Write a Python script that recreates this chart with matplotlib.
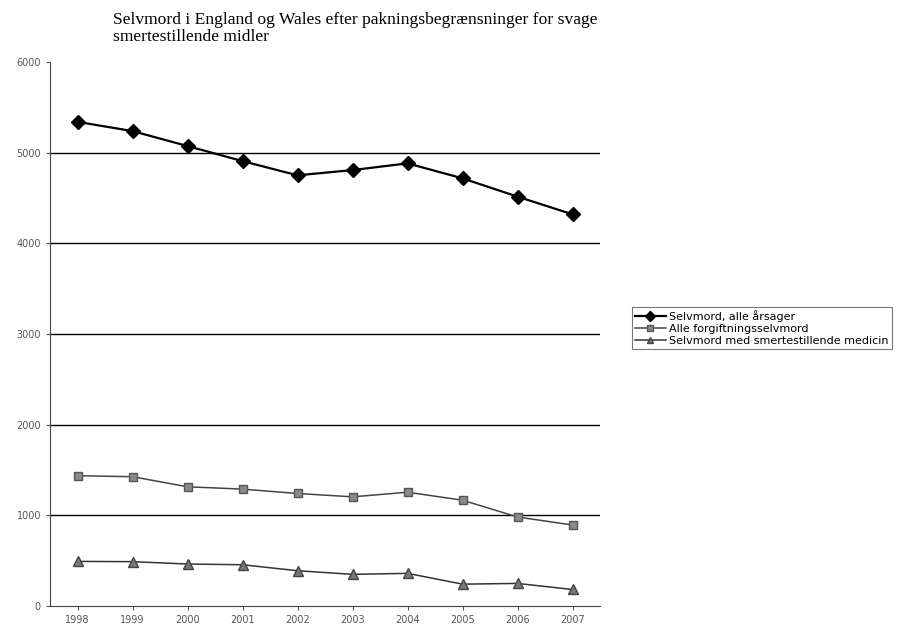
import numpy as np
import matplotlib.pyplot as plt

years = ["1998", "1999", "2000", "2001", "2002", "2003", "2004", "2005", "2006", "2007"]
alle_aarsager = [5340, 5238, 5073, 4907, 4750, 4808, 4882, 4717, 4515, 4320]
forgiftning = [1437, 1426, 1315, 1289, 1241, 1204, 1255, 1167, 982, 893]
smertestillende = [492, 489, 463, 455, 389, 349, 360, 241, 249, 182]

labels = ["Selvmord, alle årsager", "Alle forgiftningsselvmord",
          "Selvmord med smertestillende medicin"]
title = ("Selvmord i England og Wales efter pakningsbegrænsninger for svage\n"
         "smertestillende midler")

W, H = 897, 634
fig = plt.figure(figsize=(W / 100, H / 100), dpi=100)
ax = fig.add_axes([50 / W, (H - 606) / H, 550 / W, (606 - 62) / H])

x = np.arange(len(years))
ax.plot(x, alle_aarsager, color="black", lw=1.6, marker="D", ms=7,
        mfc="black", mec="black", label=labels[0])
ax.plot(x, forgiftning, color="#444444", lw=1.1, marker="s", ms=6,
        mfc="#8a8a8a", mec="#555555", label=labels[1])
ax.plot(x, smertestillende, color="#333333", lw=1.1, marker="^", ms=7,
        mfc="#777777", mec="#444444", label=labels[2])

ax.set_xlim(-0.5, len(years) - 0.5)
ax.set_ylim(0, 6000)
ax.set_yticks(range(0, 7000, 1000))
ax.set_yticklabels([str(v) for v in range(0, 7000, 1000)], fontsize=7, color="#555555")
ax.set_xticks(x)
ax.set_xticklabels(years, fontsize=7, color="#555555")
ax.tick_params(axis="both", length=3, width=0.8, color="#555555")
for v in range(1000, 6000, 1000):
    ax.axhline(v, color="black", lw=1, zorder=0)

for s in ["top", "right"]:
    ax.spines[s].set_visible(False)
ax.spines["left"].set_color("#444444")
ax.spines["bottom"].set_color("#444444")

fig.text(113 / W, 1 - 12 / H, title, ha="left", va="top",
         fontsize=12.6, family="Liberation Serif", linespacing=1.05)

leg = fig.legend(loc="upper left", bbox_to_anchor=(632 / W, 1 - 307 / H),
                 fontsize=8, frameon=True, fancybox=False, handlelength=2.8,
                 markerscale=0.7, borderpad=0.25, labelspacing=0.2,
                 handletextpad=0.3, borderaxespad=0)
leg.get_frame().set_edgecolor("#555555")
leg.get_frame().set_linewidth(0.8)

fig.savefig("out.png", dpi=100)
